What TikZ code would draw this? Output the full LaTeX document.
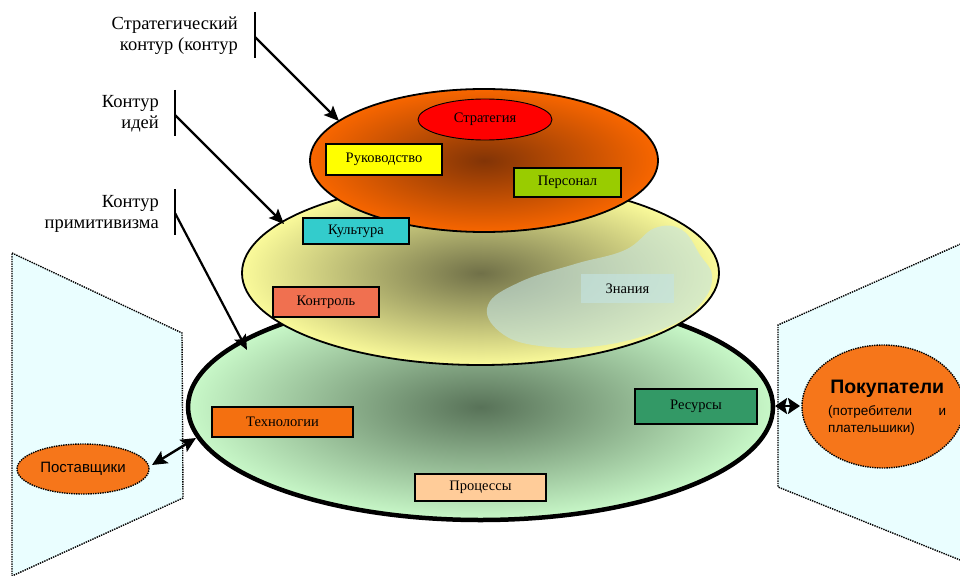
\documentclass[tikz,border=0pt]{standalone}
\usepackage{fontspec}
\setmainfont{Liberation Serif}
\newfontfamily\sansf{Liberation Sans}
\usetikzlibrary{shapes.geometric,arrows.meta}
\definecolor{panelc}{RGB}{234,254,255}
\definecolor{orgout}{RGB}{248,102,0}
\definecolor{orgin}{RGB}{130,52,6}
\definecolor{yelout}{RGB}{250,250,154}
\definecolor{yelin}{RGB}{112,112,72}
\definecolor{grnout}{RGB}{200,248,200}
\definecolor{grnin}{RGB}{88,114,88}
\definecolor{stratc}{RGB}{255,0,0}
\definecolor{rukc}{RGB}{255,255,0}
\definecolor{persc}{RGB}{153,204,0}
\definecolor{kultc}{RGB}{51,204,204}
\definecolor{kontc}{RGB}{240,112,80}
\definecolor{techc}{RGB}{244,112,16}
\definecolor{procc}{RGB}{255,204,153}
\definecolor{resc}{RGB}{51,153,102}
\definecolor{agentc}{RGB}{246,118,26}
\definecolor{blobc}{RGB}{196,228,228}
\begin{document}
\begin{tikzpicture}[x=1pt,y=-1pt,
  box/.style={draw=black, line width=1.6pt, inner sep=0pt, font=\fontsize{14.5}{16}\selectfont},
  lbl/.style={font=\fontsize{18.5}{21}\selectfont, align=right, anchor=east, inner sep=0pt},
  arr/.style={-{Stealth[length=15pt,width=13pt,inset=3pt]}, line width=2.2pt},
  dbl/.style={{Stealth[length=15pt,width=14pt,inset=3pt]}-{Stealth[length=15pt,width=14pt,inset=3pt]}, line width=2.4pt},
  half/.style={-{Stealth[length=12pt,width=16pt,inset=2pt]}, line width=2pt},
  bar/.style={line width=2.6pt},
  panel/.style={draw=black, densely dotted, line width=1.4pt, fill=panelc},
  agent/.style={ellipse, draw=black, densely dotted, line width=1.4pt, fill=agentc, inner sep=0pt}
]
\useasboundingbox (0,0) rectangle (960,575);
\clip (0,0) rectangle (960,575);

% side panels
\draw[panel] (12,253) -- (182,333) -- (183,498) -- (12,576) -- cycle;
\draw[panel] (965,242) -- (778,325) -- (778,487) -- (965,562);

% contours
\node[ellipse, draw=black, line width=4.5pt, minimum width=585pt, minimum height=226pt,
  inner color=grnin, outer color=grnout] (green) at (480.5,407) {};
\node[ellipse, draw=black, line width=1.8pt, minimum width=477pt, minimum height=184pt,
  inner color=yelin, outer color=yelout] (yellow) at (480.5,273) {};
\fill[blobc, opacity=0.6] plot[smooth cycle, tension=0.7] coordinates
  {(488,305) (520,282) (575,264) (625,250) (655,228) (682,230) (700,255) (712,276)
   (702,302) (670,326) (605,345) (540,346) (500,332)};
\node[ellipse, draw=black, line width=1.8pt, minimum width=348pt, minimum height=143pt,
  inner color=orgin, outer color=orgout] (orange) at (484,160.5) {};

% items
\node[ellipse, draw=black, line width=0.9pt, fill=stratc, minimum width=134pt, minimum height=41pt,
  inner sep=0pt, font=\fontsize{14.5}{16}\selectfont] (strat) at (485,119.5) {Стратегия};
\node[box, fill=rukc, minimum width=116pt, minimum height=31pt] (ruk) at (384,159.5) {Руководство};
\node[box, fill=persc, minimum width=107pt, minimum height=29pt] (pers) at (567.5,182.5) {Персонал};
\node[box, fill=kultc, minimum width=106pt, minimum height=26pt] (kult) at (356,231) {Культура};
\node[box, fill=kontc, minimum width=106pt, minimum height=30pt] (kont) at (326,302) {Контроль};
\node[fill=blobc, fill opacity=0.6, text opacity=1, inner sep=0pt, minimum width=93pt, minimum height=29pt,
  font=\fontsize{14.5}{16}\selectfont] (znan) at (627.5,288.5) {Знания};
\node[box, fill=techc, minimum width=141pt, minimum height=30pt] (tech) at (282.5,422) {Технологии};
\node[box, fill=procc, minimum width=131pt, minimum height=27pt] (proc) at (480.5,487.5) {Процессы};
\node[box, fill=resc, minimum width=122pt, minimum height=35pt] (res) at (696,406.5) {Ресурсы};

% agents
\node[agent, minimum width=132pt, minimum height=50pt, font=\sansf\fontsize{15}{17}\selectfont] (post) at (83,469) {Поставщики};
\node[agent, minimum width=162pt, minimum height=123pt] (pok) at (883,406.5) {};
\node[inner sep=0pt, align=left, anchor=north west, font=\sansf\fontsize{13.5}{17}\selectfont] (pokt) at (828,380)
  {\hbox to 118pt{\hss\fontsize{19.5}{22}\selectfont\bfseries Покупатели\hss}\\[5pt]
   \hbox to 118pt{(потребители\hfill и}\\плательшики)};

% labels
\node[lbl] (l1) at (238,35.5) {Стратегический\\контур (контур};
\node[lbl] (l2) at (159,113.5) {Контур\\идей};
\node[lbl] (l3) at (159,213.5) {Контур\\примитивизма};
\draw[bar] (255,12) -- (255,58);
\draw[bar] (175,90) -- (175,136);
\draw[bar] (175,189) -- (175,235);
\coordinate (s1) at (255,37);
\coordinate (s2) at (175,115);
\coordinate (s3) at (175,213);
\coordinate (e1) at (339,121);
\coordinate (e2) at (284,224);
\coordinate (e3) at (247,350);
\draw[arr] (s1) -- (e1);
\draw[arr] (s2) -- (e2);
\draw[arr] (s3) -- (e3);

% exchange arrows
\coordinate (pa) at (152,465);
\coordinate (pb) at (196,438);
\draw[dbl] (pa) -- (pb);
\coordinate (rm) at (787.5,406);
\coordinate (ra) at (775,406);
\coordinate (rb) at (800,406);
\draw[half] (rm) -- (ra);
\draw[half] (rm) -- (rb);
\end{tikzpicture}
\end{document}
